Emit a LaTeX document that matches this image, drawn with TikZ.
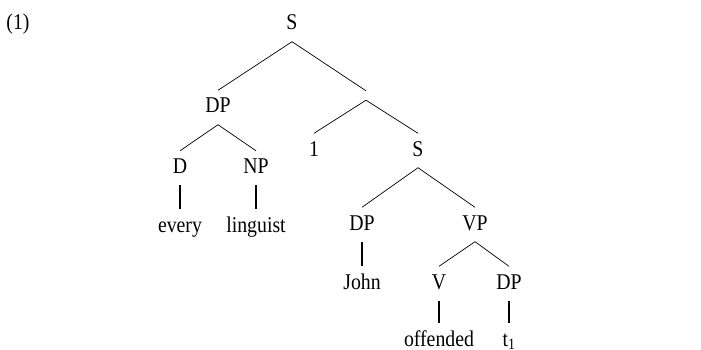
\documentclass[tikz,border=0pt]{standalone}
\usepackage{fontspec}
\setmainfont{Liberation Serif}[FakeStretch=0.88]
\usepackage{tikz}
\usetikzlibrary{positioning}

\tikzset{
  cat/.style={font=\fontsize{22.5}{26}\selectfont, text height=15pt, text depth=4pt, inner xsep=2pt, inner ysep=7.5pt},
  joint/.style={inner sep=0pt, text height=0pt, text depth=0pt, inner ysep=4.5pt, minimum size=0pt},
  branch/.style={line width=0.7pt},
  stem/.style={line width=1.6pt}
}

\begin{document}
\begin{tikzpicture}[x=1pt,y=1pt,on grid]
   \useasboundingbox (0,0) rectangle (701,-350);
   \node[cat] (ex) at (18,-24.5) {(1)};
   \node[cat] (S_0) at (292,-24.5) {S};
   \node[cat] (DP_1) [below left=83pt and 74pt of S_0] {DP};
   \node[joint] (bar) [below right=71pt and 74pt of S_0] {};
   \node[cat] (D) [below left=60.5pt and 38pt of DP_1] {D};
   \node[cat] (NP) [below right=60.5pt and 38pt of DP_1] {NP};
   \node[cat] (w_every) [below=58.5pt of D] {every};
   \node[cat] (w_ling) [below=58.5pt of NP] {linguist};
   \node[cat] (idx) [below left=55pt and 52pt of bar] {1};
   \node[cat] (S_1) [below right=55pt and 52pt of bar] {S};
   \node[cat] (DP_2) [below left=74pt and 56pt of S_1] {DP};
   \node[cat] (VP) [below right=74pt and 57pt of S_1] {VP};
   \node[cat] (w_john) [below=59pt of DP_2] {John};
   \node[cat] (V) [below left=59pt and 36pt of VP] {V};
   \node[cat] (DP_3) [below right=59pt and 34pt of VP] {DP};
   \node[cat] (w_off) [below=57pt of V] {offended};
   \node[cat] (w_t) [below=57pt of DP_3] {t\textsubscript{1}};
    \path[branch]
    (S_0.south) edge (DP_1.north)
    (S_0.south) edge (bar.north)
    (DP_1.south) edge (D.north)
    (DP_1.south) edge (NP.north)
    (bar.south) edge (idx.north)
    (bar.south) edge (S_1.north)
    (S_1.south) edge (DP_2.north)
    (S_1.south) edge (VP.north)
    (VP.south) edge (V.north)
    (VP.south) edge (DP_3.north);
    \path[stem]
    (D.south) edge (w_every.north)
    (NP.south) edge (w_ling.north)
    (DP_2.south) edge (w_john.north)
    (V.south) edge (w_off.north)
    (DP_3.south) edge (w_t.north);
\end{tikzpicture}
\end{document}
